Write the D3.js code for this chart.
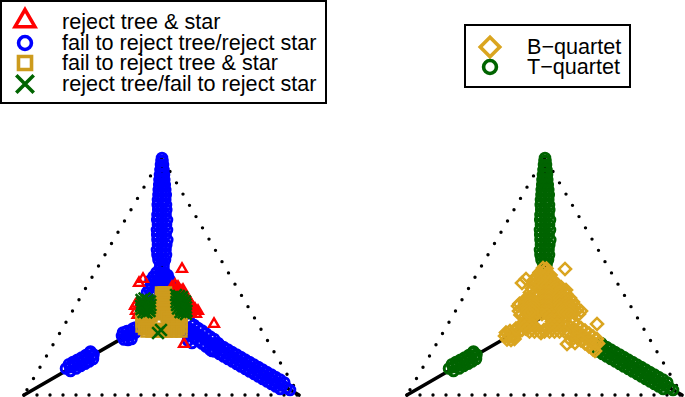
<!DOCTYPE html>
<html lang="en">
<head>
<meta charset="UTF-8">
<title>Quartet simplex plots</title>
<script src="https://d3js.org/d3.v7.min.js"></script>
<style>
  body { margin: 0; background: #fff; }
  svg { display: block; }
  text { font-family: "Liberation Sans", Arial, sans-serif; fill: #000; }
</style>
</head>
<body>
<div id="chart"></div>
<script>

// ------ data ------

const corners = [[0, 0], [110, 0], [55, 95.26]];
const centre = [55, 31.75];

const armTop = [[55.2,94.8],[55,93.6],[55.4,93.6],[54.8,92],[55.2,92],[55.6,92],[54.6,90],[55.2,90],[55.8,90],
  [54.4,88],[55.3,88],[56,88],[54.2,86],[55.1,86],[56.1,86],[54.1,84],[55.2,84],[56.3,84],[53.9,82],[55.3,82],[56.5,82],
  [53.8,80],[55.1,80],[56.7,80],[53.6,78],[55.2,78],[56.5,78],[53.5,76],[55.3,76],[56.8,76],[53.7,74],[55,74],[56.9,74],
  [53.4,72],[55.2,72],[56.6,72],[53.3,70],[55.1,70],[57.2,70],[53.6,68],[55.3,68],[56.8,68],[53.2,66],[55,66],[57.2,66],
  [53.3,64],[55.2,64],[56.6,64],[53.4,62],[55.1,62],[57.3,62],[53.6,60],[55.3,60],[56.9,60],[53.2,58],[55,58],[56.6,58],
  [53.4,56],[55.2,56],[56.8,56],[53.8,54],[55.1,54],[56.4,54],[54.6,52],[55.8,52]];

const armLeft = [[16.8,10.6],[18.5,11.2],[20.2,12],[22,12.9],[23.7,13.8],[25.4,14.8],[27,15.6],
  [18,12.3],[19.6,13.2],[21.4,14.1],[23.1,15],[24.8,16],[26.3,16.9],[26.6,17.4],[27.8,16.2],
  [18.6,9.6],[20.8,10.6],[22.6,11.6],[24.4,12.5],[26,13.4],[27.6,14.4]];

const armRight = [[77.2,18.8],[79,17.8],[80.7,16.8],[82.4,15.8],[84.2,14.8],[85.9,13.8],[87.6,12.8],[89.4,11.8],[91.1,10.8],
  [92.9,9.8],[94.6,8.8],[96.3,7.8],[98.1,6.8],[99.8,5.8],[101.6,4.8],[103.3,3.8],[105,2.8],[106.4,2],
  [78,20.2],[79.8,19.2],[81.5,18.2],[83.2,17.2],[85,16.2],[86.7,15.2],[88.4,14.2],[90.2,13.2],[91.9,12.2],[93.7,11.2],
  [95.4,10.2],[97.1,9.2],[98.9,8.2],[100.6,7.2],[102.4,6.2],[104.1,5],[77.6,20.8],
  [76.4,17.4],[78.2,16.4],[79.9,15.4],[81.6,14.4],[83.4,13.4],[85.1,12.4],[86.8,11.4],[88.6,10.4],[90.3,9.4],[92.1,8.4],
  [93.8,7.4],[95.5,6.4],[97.3,5.4],[99,4.4],[100.8,3.4],[102.5,2.4]];

const hubBlue = [[39.6,25],[41.2,25.6],[42.8,25.6],[39.2,23.6],[40.8,23.8],[42.4,23.8],[40,22.2],[41.6,22],[43,22.4],
  [44.6,25],[46,26],[47.4,26.6],[44.6,27],[46.4,27.6],[43.6,26.6],
  [54.4,50.8],[55.8,50.6],[53,49],[54.6,49],[56.2,48.8],[57.4,48],[51.8,47.4],[53.4,47.4],[55,47.2],[56.6,47],[58,46.4],
  [50.6,45.8],[52.2,45.6],[53.8,45.4],[55.4,45.4],[57,45.2],[58.6,44.8],[51,44],[52.6,43.8],[54.2,43.6],[55.8,43.6],[57.4,43.4],[59,43],
  [50,42.6],[49.2,41],[50.6,40.4],[52,41.4],[52.4,39.6],
  [66.4,29],[68,28],[69.6,26.8],[71.2,25.8],[72.8,24.6],[74.4,23.4],[76,22.4],[65.6,27],[67.2,26],[68.8,24.8],[70.4,23.8],
  [72,22.6],[73.6,21.4],[75.2,20.4],[64.8,25],[66.4,24],[68,22.8],[69.6,21.8],[71.2,20.6],[72.8,19.4],[74.4,18.2],
  [65.6,21.8],[67.2,20.8],[76.4,20.6],[75.2,17.6]];

const hubRed = [[63.2,50.4],[47.6,46.4],[46,44.8],[76,28.4],[64,20.4],
  [60.4,44],[61.6,43.2],[62.8,41.6],[63.6,40.4],[65.2,38.8],[66.4,37.2],[67.2,35.6],[68.4,34.4],[69.6,33.6],[68.8,32.4],
  [66.8,32.8],[64.8,34],[61.2,42],[59.2,43.2],[44.4,35.6],[44.8,33.6],[63.6,42],[60,42.4],[60.8,41],[62,40],[63,38.6],
  [64.4,37.4],[65.4,36],[66,34.6],[67.4,33.8],[45,36.5],[45.4,32]];

const hubGold = [[54.8,41],[55.8,41],[56.8,41],[54.8,40],[55.8,40],[56.8,40],[54.8,39],[55.8,39],[56.8,39],
  [54.8,38],[55.8,38],[56.8,38],[54.8,37],[55.8,37],[56.8,37],[54.8,36],[55.8,36],[56.8,36],[54.8,35],[55.8,35],[56.8,35],
  [54.8,34],[55.8,34],[56.8,34],[54.8,33],[55.8,33],[56.8,33],
  [48,32.4],[50,32.4],[52,32.4],[54,32.4],[56,32.4],[58,32.4],[60,32.4],[62,32.4],
  [47,31.4],[49,31.4],[51,31.4],[57,31.4],[59,31.4],[61,31.4],[63,31.4],
  [48,30.4],[50,30.4],[58,30.4],[60,30.4],[62,30.4],
  [47,29.4],[49,29.4],[58,29.4],[59,29.4],[61,29.4],[63,29.4],
  [48,28.4],[50,28.4],[58,28.4],[60,28.4],[62,28.4],
  [47,27.4],[49,27.4],[57.4,27.4],[59,27.4],[61,27.4],[63,27.4],
  [48,26.4],[50,26.4],[52,26.4],[56,26.4],[58,26.4],[60,26.4],[62,26.4],
  [49,25.4],[51,25.4],[53,25.4],[55,25.4],[57,25.4],[59,25.4],[61,25.4],[63,25.4]];

const hubGreen = [[47,38],[48.2,38.6],[49.4,38],[50.4,37.4],[47.2,36.8],[48.4,37],[49.6,36.8],[50.6,36],[46.8,35.6],[48,35.8],
  [49.2,35.6],[50.4,34.8],[47,34.4],[48.2,34.6],[49.4,34.4],[50.2,33.6],[47.8,33.2],[49,33],
  [60.8,40],[62,39.6],[63.2,39.2],[61,38.6],[62.2,38.4],[63.4,38],[64.4,37.4],[61,37.2],[62.2,37],[63.4,36.8],[64.6,36.2],
  [61.2,36],[62.4,35.8],[63.6,35.6],[64.8,35],[61.6,34.6],[62.8,34.4],[64,34.2],[65,33.6],[62.6,33.2],[63.8,33],[64.8,32.4],
  [53.6,24.8],[54.8,26]];

const legendLeft = ["reject tree & star", "fail to reject tree/reject star",
  "fail to reject tree & star", "reject tree/fail to reject star"];
const legendRight = ["B\u2212quartet", "T\u2212quartet"];

// ------ layout and styles ------

const colors = { red: "#ff0000", blue: "#0000ff", gold: "#cd9b1d", green: "#006400", diamond: "#daa520" };

const svg = d3.select("#chart").append("svg")
    .attr("width", 685)
    .attr("height", 397);

const path = (type, size) => d3.symbol().type(type).size(size)();
const triangleUp = d3.symbolTriangle;

function drawPanel(left, layers) {
  const x = d3.scaleLinear().domain([0, 110]).range([left, left + 275]);
  const y = d3.scaleLinear().domain([0, 110]).range([395, 120]);
  const g = svg.append("g");
  const line = d3.line().x(d => x(d[0])).y(d => y(d[1]));

  // dotted triangle
  g.append("path")
      .attr("d", line([corners[0], corners[1], corners[2], corners[0]]))
      .attr("fill", "none")
      .attr("stroke", "#000")
      .attr("stroke-width", 3.4)
      .attr("stroke-linecap", "round")
      .attr("stroke-dasharray", "0 13");

  // star tree
  corners.forEach(c => {
    g.append("path")
        .attr("d", line([centre, c]))
        .attr("stroke", "#000")
        .attr("stroke-width", 3.6)
        .attr("stroke-linecap", "round");
  });

  layers.forEach(l => {
    g.append("g").selectAll("path")
      .data(l.points)
      .join("path")
        .attr("d", path(l.type, l.size))
        .attr("transform", d => `translate(${x(d[0])},${y(d[1])}) rotate(${l.rotate || 0})`)
        .attr("fill", "none")
        .attr("stroke", l.color)
        .attr("stroke-width", l.width);
  });
}

const hubAll = [...hubBlue, ...hubRed, ...hubGold, ...hubGreen];

drawPanel(24, [
  { points: [...armTop, ...armLeft, ...armRight, ...hubBlue], type: d3.symbolCircle, size: 72, color: colors.blue, width: 3 },
  { points: hubRed, type: triangleUp, size: 42, color: colors.red, width: 2.4 },
  { points: hubGold, type: d3.symbolSquare, size: 100, color: colors.gold, width: 2.4 },
  { points: hubGreen, type: d3.symbolTimes, size: 90, color: colors.green, width: 2.6 }
]);

drawPanel(407, [
  { points: [...armTop, ...armLeft, ...armRight], type: d3.symbolCircle, size: 72, color: colors.green, width: 3 },
  { points: hubAll, type: d3.symbolSquare, size: 72, rotate: 45, color: colors.diamond, width: 2.6 }
]);

// ------ legends ------

function drawLegend(box, textX, markerX, rows) {
  svg.append("rect")
      .attr("x", box[0]).attr("y", box[1])
      .attr("width", box[2]).attr("height", box[3])
      .attr("fill", "#fff")
      .attr("stroke", "#000")
      .attr("stroke-width", 2);
  rows.forEach(r => {
    svg.append("path")
        .attr("d", path(r.type, r.size))
        .attr("transform", `translate(${markerX},${r.y}) rotate(${r.rotate || 0})`)
        .attr("fill", "none")
        .attr("stroke", r.color)
        .attr("stroke-width", r.width);
    svg.append("text")
        .attr("x", textX)
        .attr("y", r.base)
        .style("font-size", "21.6px")
        .text(r.label);
  });
}

drawLegend([1, 1, 325, 102], 62, 25, [
  { label: legendLeft[0], y: 21, base: 29, type: triangleUp, size: 170, color: colors.red, width: 3.6 },
  { label: legendLeft[1], y: 43, base: 50, type: d3.symbolCircle, size: 130, color: colors.blue, width: 3.6 },
  { label: legendLeft[2], y: 63, base: 70, type: d3.symbolSquare, size: 170, color: colors.gold, width: 3.6 },
  { label: legendLeft[3], y: 84, base: 91, type: d3.symbolTimes, size: 200, color: colors.green, width: 3.6 }
]);

drawLegend([465, 25, 165, 62], 527, 490, [
  { label: legendRight[0], y: 47, base: 54, type: d3.symbolSquare, size: 190, rotate: 45, color: colors.diamond, width: 3.6 },
  { label: legendRight[1], y: 67, base: 74, type: d3.symbolCircle, size: 130, color: colors.green, width: 3.6 }
]);

</script>
</body>
</html>
